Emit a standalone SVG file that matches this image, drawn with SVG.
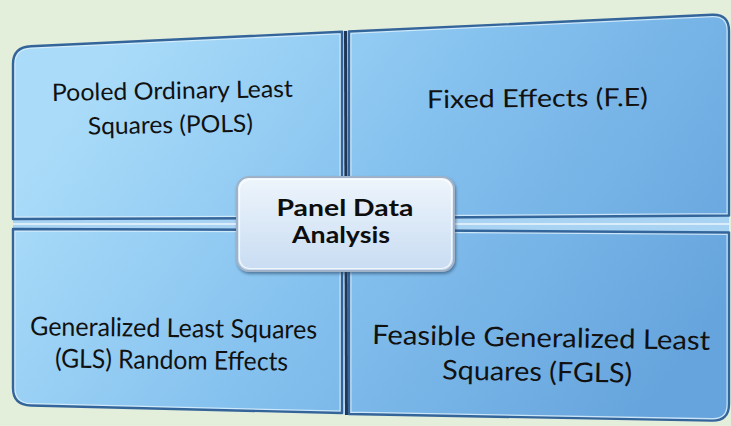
<svg xmlns="http://www.w3.org/2000/svg" width="731" height="426" viewBox="0 0 731 426">
  <defs>
    <linearGradient id="quadFill" gradientUnits="userSpaceOnUse" x1="120" y1="40" x2="640" y2="420">
      <stop offset="0" stop-color="#aadcf9"/>
      <stop offset="0.45" stop-color="#86c2ef"/>
      <stop offset="1" stop-color="#66a4dd"/>
    </linearGradient>
    <linearGradient id="hubFill" x1="0" y1="0" x2="0" y2="1">
      <stop offset="0" stop-color="#eef5fc"/>
      <stop offset="1" stop-color="#c8dcf2"/>
    </linearGradient>
    <filter id="hubShadow" x="-10%" y="-10%" width="125%" height="130%">
      <feDropShadow dx="1" dy="2" stdDeviation="1.5" flood-color="#203a58" flood-opacity="0.55"/>
    </filter>
    <path id="q1" d="M13,219 L13,64 Q13,47 31,46.2 L342,31.8 L342,218 Z"/>
    <path id="q2" d="M349,31.5 L712,14.8 Q729,14 729,31 L729,215.5 L349,218 Z"/>
    <path id="q3" d="M13,229 L342,230 L342,413 L31,405.5 Q13,405 13,388 Z"/>
    <path id="q4" d="M349,230 L729,232.5 L729,404 Q729,421 712,420.6 L349,414 Z"/>
    <clipPath id="c1"><use href="#q1"/></clipPath>
    <clipPath id="c2"><use href="#q2"/></clipPath>
    <clipPath id="c3"><use href="#q3"/></clipPath>
    <clipPath id="c4"><use href="#q4"/></clipPath>
  </defs>
  <style>
    .quad { fill: url(#quadFill); }
    .bevel { fill: none; stroke: #d9effb; stroke-width: 5; stroke-opacity: 0.85; }
    .edge { fill: none; stroke: #34659a; stroke-width: 2.4; stroke-linejoin: round; }
    .label { font-family: Lato, "Liberation Sans", sans-serif; fill: #111; text-anchor: middle; }
    .hub-label { font-family: Lato, "Liberation Sans", sans-serif; font-weight: bold; fill: #0d0d0d; text-anchor: middle; font-size: 23px; }
  </style>

  <!-- page background -->
  <rect width="731" height="426" fill="#e3eedb"/>

  <!-- seams between the four cells -->
  <g id="connectors">
    <polygon points="340,31 351,30.5 351,415 340,414" fill="#bcdcf3"/>
    <polygon points="344,31 347,31 348,415 345,415" fill="#1f3656"/>
    <polygon points="13,217 729,214 729,234 13,231" fill="#a9d3f2"/>
    <line x1="13" y1="224" x2="729" y2="224" stroke="#ffffff" stroke-width="1.5" stroke-opacity="0.8"/>
  </g>

  <g id="cell-pols">
    <use href="#q1" class="quad"/>
    <use href="#q1" class="bevel" clip-path="url(#c1)"/>
    <use href="#q1" class="edge"/>
    <text class="label" font-size="24" x="172.5" y="99" textLength="241" lengthAdjust="spacingAndGlyphs" transform="rotate(-1 172.5 99)">Pooled Ordinary Least</text>
    <text class="label" font-size="24" x="170.5" y="133" textLength="165" lengthAdjust="spacingAndGlyphs" transform="rotate(-1 170.5 133)">Squares (POLS)</text>
  </g>

  <g id="cell-fe">
    <use href="#q2" class="quad"/>
    <use href="#q2" class="bevel" clip-path="url(#c2)"/>
    <use href="#q2" class="edge"/>
    <text class="label" font-size="25" x="537.5" y="107" textLength="221" lengthAdjust="spacingAndGlyphs" transform="rotate(-0.6 537.5 107)">Fixed Effects (F.E)</text>
  </g>

  <g id="cell-gls">
    <use href="#q3" class="quad"/>
    <use href="#q3" class="bevel" clip-path="url(#c3)"/>
    <use href="#q3" class="edge"/>
    <text class="label" font-size="26" x="173.5" y="337" textLength="287" lengthAdjust="spacingAndGlyphs" transform="rotate(0.7 173.5 337)">Generalized Least Squares</text>
    <text class="label" font-size="26" x="171.5" y="369" textLength="233" lengthAdjust="spacingAndGlyphs" transform="rotate(0.8 171.5 369)">(GLS) Random Effects</text>
  </g>

  <g id="cell-fgls">
    <use href="#q4" class="quad"/>
    <use href="#q4" class="bevel" clip-path="url(#c4)"/>
    <use href="#q4" class="edge"/>
    <text class="label" font-size="27" x="541" y="347" textLength="338" lengthAdjust="spacingAndGlyphs" transform="rotate(1 541 347)">Feasible Generalized Least</text>
    <text class="label" font-size="27" x="537" y="381" textLength="190" lengthAdjust="spacingAndGlyphs" transform="rotate(1 537 381)">Squares (FGLS)</text>
  </g>

  <g id="hub">
    <rect x="237" y="177" width="217" height="94" rx="12" fill="url(#hubFill)" stroke="#9fb2c7" stroke-width="2" filter="url(#hubShadow)"/>
    <rect x="239.5" y="179.5" width="212" height="89" rx="10" fill="none" stroke="#ffffff" stroke-width="1.2" stroke-opacity="0.8"/>
    <text class="hub-label" x="345" y="215.5" textLength="137" lengthAdjust="spacingAndGlyphs">Panel Data</text>
    <text class="hub-label" x="341" y="243" textLength="98" lengthAdjust="spacingAndGlyphs">Analysis</text>
  </g>
</svg>
